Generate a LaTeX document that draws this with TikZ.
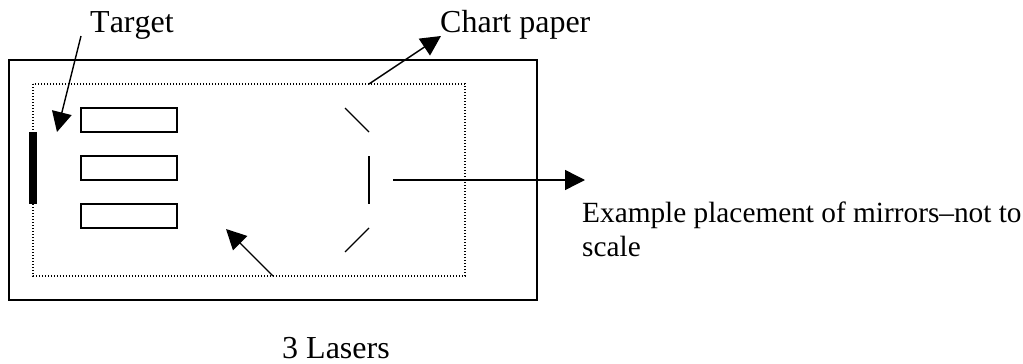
\documentclass[tikz,border=0pt]{standalone}
\usepackage{fontspec}
\setmainfont{Liberation Serif}
\usetikzlibrary{arrows.meta}
\tikzset{
  x=1pt,y=-1pt,
  frame/.style={draw=black,line width=1.4pt},
  paper/.style={draw=black,line width=1.5pt,dash pattern=on 1.1pt off 1.9pt},
  laser/.style={draw=black,line width=1.4pt},
  mirror/.style={draw=black,line width=1.3pt},
  pointer/.style={draw=black,line width=1.4pt,-{Triangle[length=20pt,width=20pt]}},
  big/.style={font=\fontsize{32}{36}\selectfont,anchor=base west,inner sep=0pt},
  small/.style={font=\fontsize{29.3}{34}\selectfont,anchor=base west,inner sep=0pt}
}
\begin{document}
\begin{tikzpicture}
\useasboundingbox (0,0) rectangle (1023,364);
\fill[white] (0,0) rectangle (1023,364);
\draw[frame] (9,60) rectangle (537,300);
\draw[paper] (33,84) rectangle (465,276);
\fill[black] (29,132) rectangle (37,204);
\draw[laser] (81,108) rectangle (177,132);
\draw[laser] (81,156) rectangle (177,180);
\draw[laser] (81,204) rectangle (177,228);
\coordinate (m1a) at (345,108); \coordinate (m1b) at (369,132);
\coordinate (m2a) at (369,156); \coordinate (m2b) at (369,204);
\coordinate (m3a) at (345,252); \coordinate (m3b) at (369,228);
\draw[mirror] (m1a) -- (m1b);
\draw[mirror] (m2a) -- (m2b);
\draw[mirror] (m3a) -- (m3b);
\node[big] (target) at (90,32) {\addfontfeatures{Kerning=Off}Target};
\node[big] (chart) at (440,32) {Chart paper};
\node[small] (ex1) at (582,222) {Example placement of mirrors–not to};
\node[small] (ex2) at (582,256) {scale};
\node[big] (lasers) at (282,358) {3 Lasers};
\coordinate (ta) at (81,36); \coordinate (tb) at (57,132);
\coordinate (ca) at (369,84); \coordinate (cb) at (441,36);
\coordinate (ea) at (393,180); \coordinate (eb) at (585,180);
\coordinate (la) at (273,276); \coordinate (lb) at (226,229);
\draw[pointer] (ta) -- (tb);
\draw[pointer] (ca) -- (cb);
\draw[pointer] (ea) -- (eb);
\draw[pointer] (la) -- (lb);
\end{tikzpicture}
\end{document}
